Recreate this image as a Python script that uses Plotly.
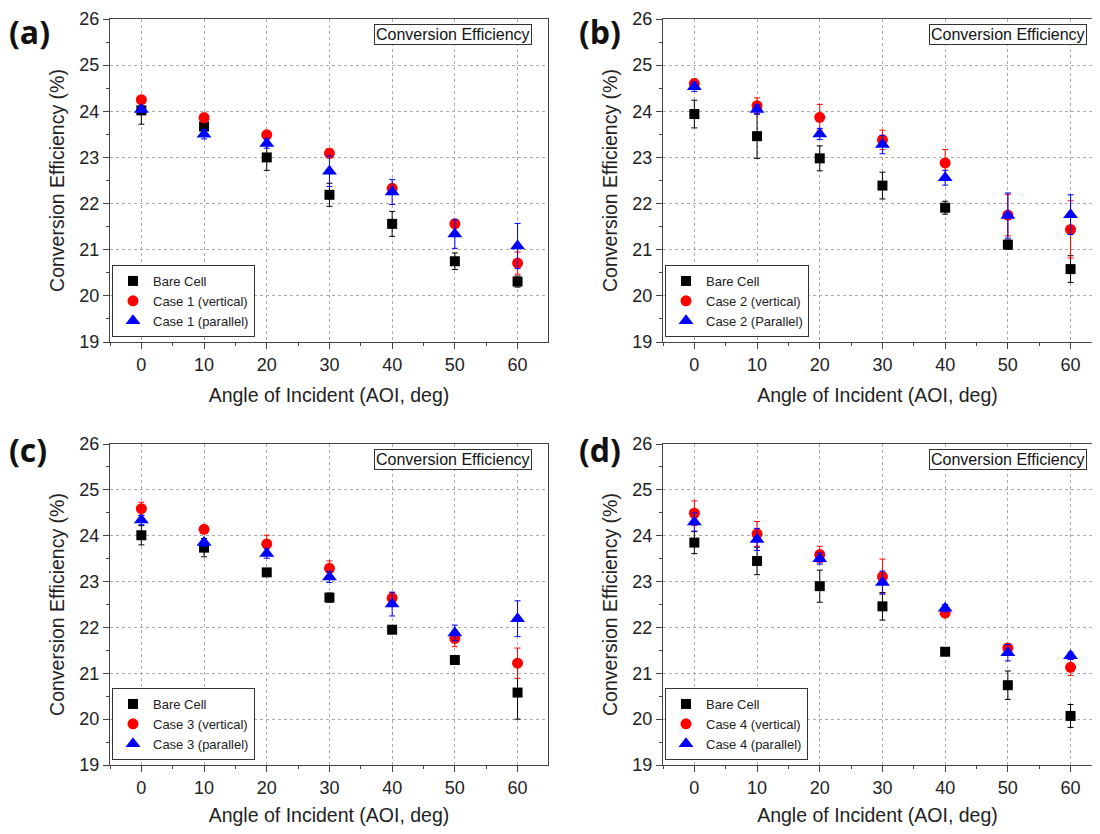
import plotly.graph_objects as go

angles = [0, 10, 20, 30, 40, 50, 60]

# Panel (a)
a_bare = [24.02, 23.67, 23.00, 22.19, 21.56, 20.75, 20.31]
a_bare_err = [0.30, 0.08, 0.28, 0.25, 0.27, 0.18, 0.12]
a_vert = [24.25, 23.86, 23.49, 23.09, 22.33, 21.56, 20.71]
a_vert_err = [0.05, 0.10, 0.08, 0.10, 0.08, 0.05, 0.24]
a_par = [24.04, 23.50, 23.30, 22.70, 22.25, 21.34, 21.08]
a_par_err = [0.05, 0.10, 0.10, 0.33, 0.27, 0.31, 0.49]

# Panel (b)
b_bare = [23.94, 23.46, 22.98, 22.39, 21.91, 21.11, 20.58]
b_bare_err = [0.30, 0.48, 0.27, 0.29, 0.14, 0.10, 0.29]
b_vert = [24.60, 24.12, 23.87, 23.38, 22.88, 21.75, 21.44]
b_vert_err = [0.10, 0.17, 0.28, 0.21, 0.29, 0.45, 0.62]
b_par = [24.53, 24.04, 23.51, 23.28, 22.56, 21.74, 21.76]
b_par_err = [0.10, 0.10, 0.12, 0.20, 0.16, 0.49, 0.43]

# Panel (c)
c_bare = [24.01, 23.74, 23.20, 22.65, 21.95, 21.29, 20.58]
c_bare_err = [0.21, 0.20, 0.05, 0.10, 0.05, 0.05, 0.58]
c_vert = [24.59, 24.14, 23.82, 23.29, 22.64, 21.76, 21.22]
c_vert_err = [0.14, 0.05, 0.19, 0.16, 0.12, 0.18, 0.33]
c_par = [24.34, 23.85, 23.61, 23.10, 22.51, 21.88, 22.19]
c_par_err = [0.10, 0.08, 0.10, 0.12, 0.26, 0.17, 0.39]

# Panel (d)
d_bare = [23.85, 23.45, 22.90, 22.46, 21.47, 20.74, 20.07]
d_bare_err = [0.24, 0.30, 0.35, 0.30, 0.05, 0.31, 0.25]
d_vert = [24.49, 24.04, 23.59, 23.11, 22.31, 21.55, 21.13]
d_vert_err = [0.27, 0.27, 0.18, 0.38, 0.05, 0.08, 0.18]
d_par = [24.30, 23.92, 23.50, 22.98, 22.42, 21.45, 21.38]
d_par_err = [0.20, 0.24, 0.12, 0.25, 0.08, 0.18, 0.08]

panel_labels = ["(a)", "(b)", "(c)", "(d)"]
case_names = [
    ["Bare Cell", "Case 1 (vertical)", "Case 1 (parallel)"],
    ["Bare Cell", "Case 2 (vertical)", "Case 2 (Parallel)"],
    ["Bare Cell", "Case 3 (vertical)", "Case 3 (parallel)"],
    ["Bare Cell", "Case 4 (vertical)", "Case 4 (parallel)"],
]
box_title = "Conversion Efficiency"
x_title = "Angle of Incident (AOI, deg)"
y_title = "Conversion Efficiency (%)"

panels = [
    (a_bare, a_bare_err, a_vert, a_vert_err, a_par, a_par_err),
    (b_bare, b_bare_err, b_vert, b_vert_err, b_par, b_par_err),
    (c_bare, c_bare_err, c_vert, c_vert_err, c_par, c_par_err),
    (d_bare, d_bare_err, d_vert, d_vert_err, d_par, d_par_err),
]

# page body has an 8px margin; figure sized so the page is exactly 1100x834
OFF = 8
W, H = 1100 - 2 * OFF, 834 - 2 * OFF


def fx(X):
    return (X - OFF) / W


def fy(Y):
    return 1 - (Y - OFF) / H


# screen-pixel geometry of each plot area: left, right, top, bottom
geom = [
    (110, 548, 19, 342),
    (663, 1100 - OFF, 19, 342),
    (110, 548, 444, 765),
    (663, 1100 - OFF, 444, 765),
]
PX10 = 62.7  # pixels per 10 degrees


styles = [
    dict(color="black", symbol="square", size=10),
    dict(color="red", symbol="circle", size=11),
    dict(color="blue", symbol="triangle-up", size=13),
]

FONT = "Liberation Sans, Arial, sans-serif"
fig = go.Figure()
layout = dict(
    width=W, height=H,
    margin=dict(l=0, r=0, t=0, b=0, autoexpand=False),
    paper_bgcolor="white", plot_bgcolor="white",
    font=dict(family=FONT, color="#222"),
    annotations=[], shapes=[],
)

for i, data in enumerate(panels):
    n = "" if i == 0 else str(i + 1)
    xa, ya = "x" + n, "y" + n
    leg = "legend" + n
    for k in range(3):
        vals, errs = data[2 * k], data[2 * k + 1]
        st = styles[k]
        fig.add_trace(go.Scatter(
            x=angles, y=vals, mode="markers", name=case_names[i][k],
            xaxis=xa, yaxis=ya, legend=leg,
            marker=dict(color=st["color"], symbol=st["symbol"], size=st["size"], line=dict(width=0)),
            error_y=dict(type="data", array=errs, visible=True, color=st["color"], thickness=1, width=3),
        ))
    l, r, t, b = geom[i]
    xd = [fx(l), min(fx(r), 1.0)]
    yd = [fy(b), fy(t)]
    xr = [-5, -5 + (r - l) / PX10 * 10]
    right_side = (i % 2 == 1)
    axis_common = dict(
        showline=True, linecolor="#444", linewidth=1.2,
        ticks="outside", ticklen=6, tickcolor="#444",
        showgrid=True, gridcolor="#aaa", griddash="dot", gridwidth=1,
        zeroline=False, tickfont=dict(size=18, family=FONT, color="#222"),
    )
    layout["xaxis" + n] = dict(
        axis_common, domain=xd, range=xr, anchor=ya, mirror=True,
        tickmode="array", tickvals=angles, ticktext=[str(v) for v in angles],
        minor=dict(ticks="outside", ticklen=3, tickvals=[-5, 5, 15, 25, 35, 45, 55, 65], tickcolor="#444"),
        title=dict(text=x_title, font=dict(size=19.5, family=FONT, color="#222"), standoff=14),
    )
    layout["yaxis" + n] = dict(
        axis_common, domain=yd, range=[19, 26], anchor=xa, mirror=not right_side,
        dtick=1, tick0=19,
        minor=dict(ticks="outside", ticklen=3, dtick=0.5, tickcolor="#444"),
        title=dict(text=y_title, font=dict(size=19.5, family=FONT, color="#222"), standoff=9),
    )
    # legend box (bottom-left)
    layout[leg] = dict(
        x=fx(l + 2), y=fy(b - 5), xanchor="left", yanchor="bottom",
        bgcolor="white", bordercolor="#333", borderwidth=1,
        font=dict(size=13, family=FONT, color="#222"),
        tracegroupgap=0, itemwidth=30,
    )
    # "Conversion Efficiency" box
    bx = 532 if i % 2 == 0 else 1087
    layout["annotations"].append(dict(
        x=fx(bx), y=fy(t + 5), xref="paper", yref="paper",
        xanchor="right", yanchor="top", showarrow=False,
        text=box_title, font=dict(size=16, family=FONT, color="#111"),
        bordercolor="#333", borderwidth=1, borderpad=1, bgcolor="white",
    ))
    # panel label
    lx = 7 if i % 2 == 0 else 577
    ly = 8 if i < 2 else 426
    layout["annotations"].append(dict(
        x=fx(lx), y=fy(ly), xref="paper", yref="paper",
        xanchor="left", yanchor="top", showarrow=False,
        text="<b>" + panel_labels[i] + "</b>",
        font=dict(size=32, family="Open Sans, sans-serif", color="#111"),
    ))

fig.update_layout(**layout)
fig.write_html("out.html")
